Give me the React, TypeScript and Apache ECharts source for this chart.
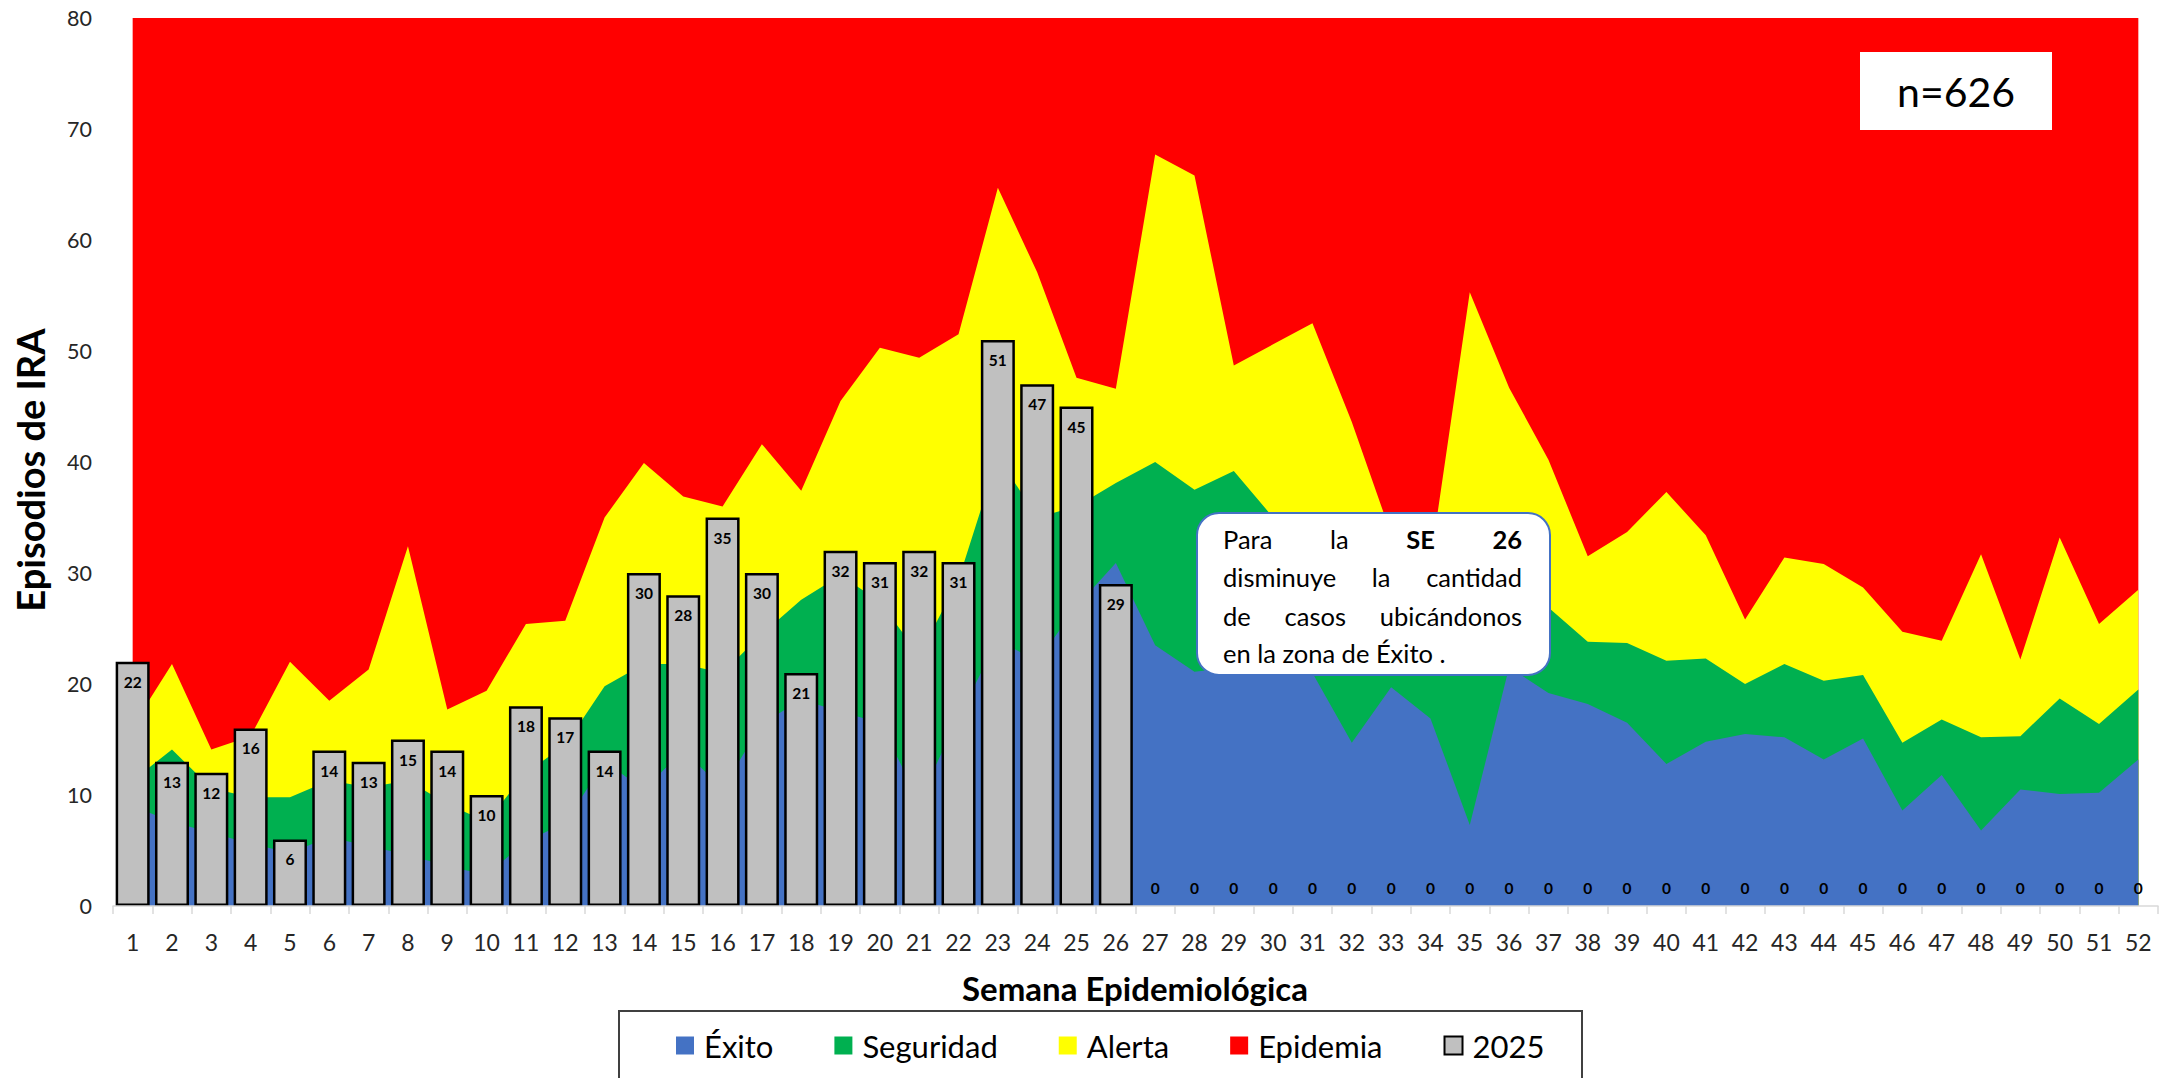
import React, { useEffect, useRef } from "react";
import * as echarts from "echarts";

const weeks = ["1","2","3","4","5","6","7","8","9","10","11","12","13","14","15","16","17","18","19","20","21","22","23","24","25","26","27","28","29","30","31","32","33","34","35","36","37","38","39","40","41","42","43","44","45","46","47","48","49","50","51","52"];

const exito = [9.0, 7.6, 6.6, 5.6, 4.8, 6.2, 5.4, 4.6, 3.6, 2.8, 5.8, 7.5, 13.0, 10.5, 14.0, 10.6, 16.4, 18.6, 17.5, 16.5, 9.5, 17.0, 24.0, 22.0, 27.0, 30.9, 23.5, 21.1, 21.5, 21.5, 21.0, 14.7, 19.7, 16.9, 7.3, 21.5, 19.2, 18.2, 16.5, 12.8, 14.8, 15.5, 15.2, 13.2, 15.1, 8.6, 11.8, 6.8, 10.5, 10.1, 10.2, 13.2];

const seguridad = [11.3, 14.1, 10.6, 9.8, 9.8, 11.3, 10.7, 11.3, 9.2, 7.6, 12.0, 14.5, 19.8, 21.8, 21.8, 21.0, 24.5, 27.6, 29.8, 27.4, 22.6, 29.4, 40.5, 35.0, 36.0, 38.1, 40.0, 37.5, 39.2, 35.0, 33.0, 30.0, 28.5, 27.0, 28.0, 29.0, 26.9, 23.8, 23.7, 22.1, 22.3, 20.0, 21.8, 20.3, 20.8, 14.7, 16.8, 15.2, 15.3, 18.7, 16.4, 19.5];

const alerta = [16.2, 21.8, 14.1, 15.3, 22.0, 18.5, 21.3, 32.4, 17.7, 19.4, 25.4, 25.7, 35.0, 39.9, 36.9, 36.0, 41.6, 37.4, 45.5, 50.3, 49.4, 51.5, 64.7, 57.1, 47.6, 46.6, 67.7, 65.8, 48.7, 50.6, 52.5, 43.6, 33.5, 31.0, 55.3, 46.7, 40.2, 31.5, 33.7, 37.3, 33.4, 25.8, 31.4, 30.8, 28.7, 24.7, 23.9, 31.7, 22.2, 33.2, 25.4, 28.5];

const epidemia = [80, 80, 80, 80, 80, 80, 80, 80, 80, 80, 80, 80, 80, 80, 80, 80, 80, 80, 80, 80, 80, 80, 80, 80, 80, 80, 80, 80, 80, 80, 80, 80, 80, 80, 80, 80, 80, 80, 80, 80, 80, 80, 80, 80, 80, 80, 80, 80, 80, 80, 80, 80];

const casos2025 = [22, 13, 12, 16, 6, 14, 13, 15, 14, 10, 18, 17, 14, 30, 28, 35, 30, 21, 32, 31, 32, 31, 51, 47, 45, 29, 0, 0, 0, 0, 0, 0, 0, 0, 0, 0, 0, 0, 0, 0, 0, 0, 0, 0, 0, 0, 0, 0, 0, 0, 0, 0];

const FONT = "Lato, 'Noto Sans', sans-serif";

const C_EXITO = "#4472C4";
const C_SEG = "#00B050";
const C_ALERTA = "#FFFF00";
const C_EPI = "#FF0000";
const C_BAR = "#C0C0C0";

type Word = { t: string; b?: boolean };
const annotJustified: Word[][] = [
  [{ t: "Para" }, { t: "la" }, { t: "SE", b: true }, { t: "26", b: true }],
  [{ t: "disminuye" }, { t: "la" }, { t: "cantidad" }],
  [{ t: "de" }, { t: "casos" }, { t: "ubicándonos" }],
];
const annotLast = "en la zona de Éxito .";

export default function App() {
  const ref = useRef<HTMLDivElement>(null);

  useEffect(() => {
    if (!ref.current) return;
    const chart = echarts.init(ref.current, undefined, { renderer: "svg" });

    const annotSize = 25.5;
    const canvas = document.createElement("canvas");
    const ctx = canvas.getContext("2d") as CanvasRenderingContext2D;
    const measure = (t: string, b?: boolean) => {
      ctx.font = `${b ? "bold" : "normal"} ${annotSize}px Lato`;
      return ctx.measureText(t).width;
    };
    const textLeft = 1223;
    const textRight = 1522;
    const lineY = [539, 577, 616, 653];
    const annotEls: any[] = [];
    annotJustified.forEach((words, li) => {
      const widths = words.map((w) => measure(w.t, w.b));
      const total = widths.reduce((a, b) => a + b, 0);
      const gap = (textRight - textLeft - total) / (words.length - 1);
      let x = textLeft;
      words.forEach((w, wi) => {
        annotEls.push({
          type: "text",
          x,
          y: lineY[li],
          z: 102,
          style: {
            text: w.t,
            font: `${w.b ? "bold" : "normal"} ${annotSize}px Lato`,
            fill: "#000",
            textAlign: "left",
            textVerticalAlign: "middle",
          },
        });
        x += widths[wi] + gap;
      });
    });
    annotEls.push({
      type: "text",
      x: textLeft,
      y: lineY[3],
      z: 102,
      style: {
        text: annotLast,
        font: `normal ${annotSize}px Lato`,
        fill: "#000",
        textAlign: "left",
        textVerticalAlign: "middle",
      },
    });

    const areaSeries = (name: string, data: number[], color: string) => ({
      name,
      type: "line",
      data,
      symbol: "none",
      showSymbol: false,
      smooth: false,
      lineStyle: { width: 0, opacity: 0 },
      itemStyle: { color },
      areaStyle: { color, opacity: 1 },
      emphasis: { disabled: true },
      silent: true,
    });

    const option: any = {
      animation: false,
      textStyle: { fontFamily: FONT },
      grid: { left: 113, right: 15, top: 18, bottom: 172, containLabel: false },
      xAxis: {
        type: "category",
        data: weeks,
        boundaryGap: true,
        axisLine: { show: true, lineStyle: { color: "#D9D9D9", width: 1.5 } },
        axisTick: { show: true, length: 8, lineStyle: { color: "#D9D9D9", width: 1.5 } },
        axisLabel: { interval: 0, margin: 24, fontSize: 23, color: "#262626", fontFamily: FONT },
        splitLine: { show: false },
        z: 10,
      },
      yAxis: {
        type: "value",
        min: 0,
        max: 80,
        interval: 10,
        axisLine: { show: false },
        axisTick: { show: false },
        splitLine: { show: false },
        axisLabel: { margin: 21, fontSize: 21.5, color: "#262626", fontFamily: FONT },
      },
      legend: {
        left: 676,
        top: 1030,
        padding: 0,
        itemWidth: 18,
        itemHeight: 18,
        itemGap: 61,
        icon: "rect",
        selectedMode: false,
        textStyle: { fontFamily: FONT, fontSize: 31, color: "#000", padding: [0, 0, 0, 5] },
        data: [
          { name: "Éxito", itemStyle: { color: C_EXITO } },
          { name: "Seguridad", itemStyle: { color: C_SEG } },
          { name: "Alerta", itemStyle: { color: C_ALERTA } },
          { name: "Epidemia", itemStyle: { color: C_EPI } },
          { name: "2025", itemStyle: { color: C_BAR, borderColor: "#000", borderWidth: 2 } },
        ],
      },
      graphic: {
        elements: [
          {
            type: "rect",
            z: -1,
            shape: { x: 619, y: 1011, width: 963, height: 120 },
            style: { fill: "#fff", stroke: "#404040", lineWidth: 2 },
          },
          {
            type: "text",
            x: 30,
            y: 470,
            rotation: Math.PI / 2,
            style: {
              text: "Episodios de IRA",
              font: `bold 38px Lato`,
              fill: "#000",
              textAlign: "center",
              textVerticalAlign: "middle",
            },
          },
          {
            type: "text",
            x: 1135,
            y: 988,
            style: {
              text: "Semana Epidemiológica",
              font: `bold 33px Lato`,
              fill: "#000",
              textAlign: "center",
              textVerticalAlign: "middle",
            },
          },
          {
            type: "rect",
            z: 100,
            shape: { x: 1860, y: 52, width: 192, height: 78 },
            style: { fill: "#fff" },
          },
          {
            type: "text",
            x: 1956,
            y: 91,
            z: 101,
            style: {
              text: "n=626",
              font: `normal 41px Lato`,
              fill: "#000",
              textAlign: "center",
              textVerticalAlign: "middle",
            },
          },
          {
            type: "rect",
            z: 100,
            shape: { x: 1197, y: 513, width: 353, height: 162, r: 22 },
            style: { fill: "#fff", stroke: "#4472C4", lineWidth: 2 },
          },
          ...annotEls,
        ],
      },
      series: [
        areaSeries("Epidemia", epidemia, C_EPI),
        areaSeries("Alerta", alerta, C_ALERTA),
        areaSeries("Seguridad", seguridad, C_SEG),
        areaSeries("Éxito", exito, C_EXITO),
        {
          name: "2025",
          type: "bar",
          barWidth: 34,
          clip: false,
          z: 5,
          itemStyle: { color: C_BAR, borderColor: "#000", borderWidth: 2.5 },
          label: {
            show: true,
            position: "insideTop",
            distance: 12,
            fontFamily: FONT,
            fontWeight: "bold",
            fontSize: 15.5,
            color: "#000",
            formatter: "{c}",
          },
          data: casos2025.map((v) =>
            v === 0
              ? { value: v, itemStyle: { borderWidth: 0 }, label: { position: "top", distance: 10 } }
              : v
          ),
        },
      ],
    };

    chart.setOption(option);
    return () => chart.dispose();
  }, []);

  return (
    <div
      ref={ref}
      style={{ position: "absolute", left: 0, top: 0, width: 2173, height: 1078, background: "#fff" }}
    />
  );
}
